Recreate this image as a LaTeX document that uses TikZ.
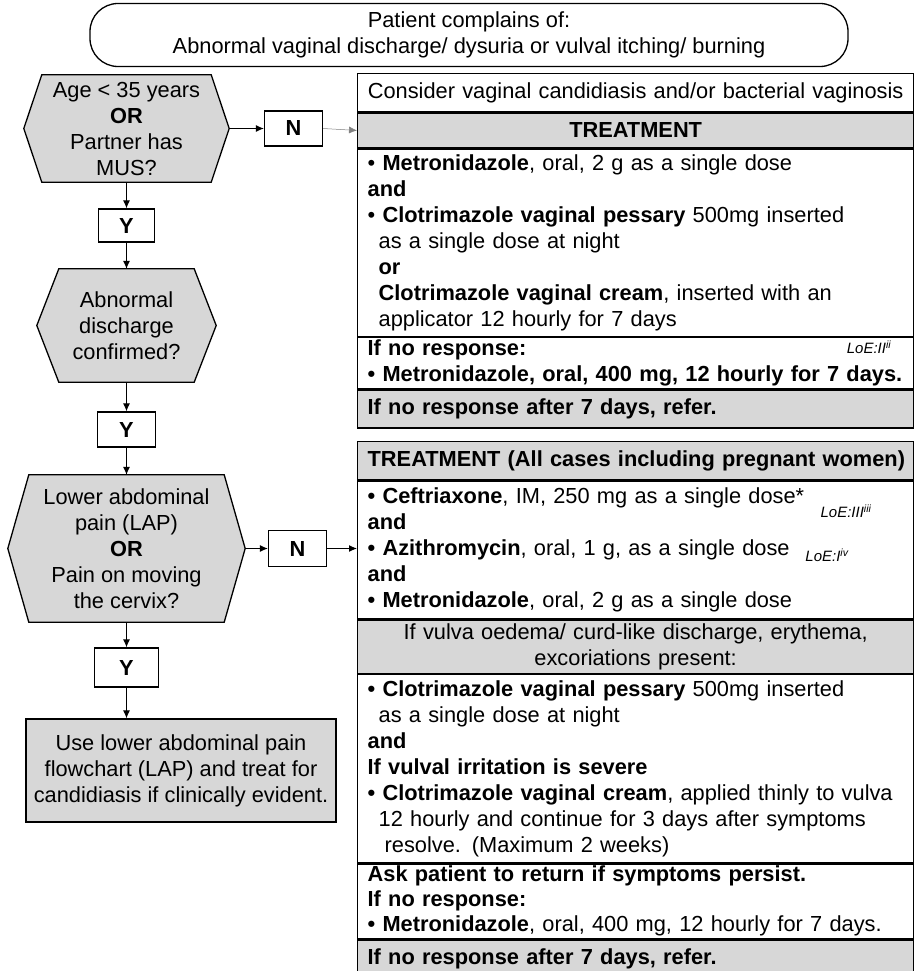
\documentclass[tikz,border=0pt]{standalone}
\usepackage{fontspec}
\setmainfont{Liberation Sans}
\usetikzlibrary{positioning,backgrounds,arrows.meta}
\definecolor{boxgrey}{RGB}{215,215,215}

\begin{document}
\begin{tikzpicture}[x=1pt,y=-1pt,
    every node/.style={font=\fontsize{21.8}{26}\selectfont,inner sep=0pt},
    bordered/.style={draw,line width=1.3pt},
    link/.style={line width=1pt,-{Latex[length=8pt,width=7pt]}},
    hexnode/.style={align=center},
    ynbox/.style={bordered,fill=white,font=\fontsize{21.8}{26}\selectfont\bfseries,
        minimum width=58pt,minimum height=35pt},
    tabrow/.style={bordered,text width=536pt,inner xsep=10pt,align=left,anchor=north west},
    greyrow/.style={tabrow,fill=boxgrey},
    loe/.style={font=\fontsize{15}{16}\selectfont\itshape}]
    \useasboundingbox (0,0) rectangle (914,971);

    % start
    \node[bordered,rounded corners=28pt,minimum width=758pt,minimum height=63pt,align=center]
        (start) at (469,35) {Patient complains of:\\Abnormal vaginal discharge/ dysuria or vulval itching/ burning};

    % decisions on the left
    \node[hexnode,minimum width=205pt,minimum height=107pt] (age) at (126.5,128.5)
        {Age < 35 years\\\textbf{OR}\\Partner has\\MUS?};
    \node[hexnode,minimum width=179pt,minimum height=113pt] (disch) at (126.5,325.5)
        {Abnormal\\discharge\\confirmed?};
    \node[hexnode,minimum width=237pt,minimum height=147pt] (lap) at (126.5,548.5)
        {Lower abdominal\\pain (LAP)\\\textbf{OR}\\Pain on moving\\the cervix?};
    \begin{scope}[on background layer]
        \foreach \n/\d in {age/18,disch/22,lap/21}
            \filldraw[bordered,fill=boxgrey] (\n.west) -- ([xshift=\d pt]\n.north west)
                -- ([xshift=-\d pt]\n.north east) -- (\n.east)
                -- ([xshift=-\d pt]\n.south east) -- ([xshift=\d pt]\n.south west) -- cycle;
    \end{scope}

    \node[ynbox] (n1) at (293.5,128.5) {N};
    \node[ynbox,minimum width=56pt,minimum height=33pt] (y1) at (126.5,225.5) {Y};
    \node[ynbox] (y2) at (126.5,429.5) {Y};
    \node[ynbox,minimum height=36pt] (n2) at (297.5,548.5) {N};
    \node[ynbox,minimum width=64pt,minimum height=39pt] (y3) at (126.5,667.5) {Y};

    \node[bordered,fill=boxgrey,minimum width=310pt,minimum height=103pt,align=center]
        (lapbox) at (181,770.5) {Use lower abdominal pain\\flowchart (LAP) and treat for\\candidiasis if clinically evident.};

    % first treatment table
    \node[tabrow,align=center,minimum height=38pt] (t1a) at (357,73)
        {\mbox{Consider vaginal candidiasis and/or bacterial vaginosis}};
    \node[greyrow,align=center,minimum height=35pt,below=0pt of t1a] (t1b) {\textbf{TREATMENT}};
    \node[tabrow,minimum height=187pt,below=0pt of t1b] (t1c)
        {• \textbf{Metronidazole}, oral, 2 g as a single dose\\
         \textbf{and}\\
         • \textbf{Clotrimazole vaginal pessary} 500mg inserted\\
         \hspace*{11pt}as a single dose at night\\
         \hspace*{11pt}\textbf{or}\\
         \hspace*{11pt}\textbf{Clotrimazole vaginal cream}, inserted with an\\
         \hspace*{11pt}applicator 12 hourly for 7 days};
    \node[tabrow,minimum height=51pt,below=0pt of t1c] (t1d)
        {\textbf{If no response:}\\
         \mbox{\textbf{• Metronidazole, oral, 400 mg, 12 hourly for 7 days.}}};
    \node[greyrow,minimum height=38pt,below=0pt of t1d] (t1e) {\textbf{If no response after 7 days, refer.}};
    \node[loe] (loeii) at (869,347) {LoE:II\textsuperscript{ii}};

    % second treatment table
    \node[greyrow,minimum height=38pt] (t2a) at (357,441)
        {\mbox{\textbf{TREATMENT (All cases including pregnant women)}}};
    \node[tabrow,minimum height=138pt,below=0pt of t2a] (t2b)
        {\textbf{•} \textbf{Ceftriaxone}, IM, 250 mg as a single dose*\\
         \textbf{and}\\
         \textbf{•} \textbf{Azithromycin}, oral, 1 g, as a single dose\\
         \textbf{and}\\
         \textbf{•} \textbf{Metronidazole}, oral, 2 g as a single dose};
    \node[greyrow,align=center,minimum height=53pt,below=0pt of t2b] (t2c)
        {If vulva oedema/ curd-like discharge, erythema,\\excoriations present:};
    \node[tabrow,minimum height=188pt,below=0pt of t2c] (t2d)
        {\textbf{•} \textbf{Clotrimazole vaginal pessary} 500mg inserted\\
         \hspace*{11pt}as a single dose at night\\
         \textbf{and}\\
         \textbf{If vulval irritation is severe}\\
         \mbox{\textbf{•} \textbf{Clotrimazole vaginal cream}, applied thinly to vulva}\\
         \hspace*{11pt}12 hourly and continue for 3 days after symptoms\\
         \hspace*{17pt}resolve. (Maximum 2 weeks)};
    \node[tabrow,minimum height=75pt,font=\fontsize{21.8}{25}\selectfont,below=0pt of t2d] (t2e)
        {\textbf{Ask patient to return if symptoms persist.}\\
         \textbf{If no response:}\\
         \mbox{\textbf{•} \textbf{Metronidazole}, oral, 400 mg, 12 hourly for 7 days.}};
    \node[greyrow,minimum height=60pt,text depth=27pt,below=0pt of t2e] (t2f)
        {\textbf{If no response after 7 days, refer.}};
    \node[loe] (loeiii) at (846,511) {LoE:III\textsuperscript{iii}};
    \node[loe] (loeiv) at (827,555) {LoE:I\textsuperscript{iv}};

    % connectors
    \draw[link] (age.east) -- (n1.west);
    \draw[link,line width=0.5pt,gray] (n1.east) -- (t1b.west);
    \draw[link] (age.south) -- (y1.north);
    \draw[link] (y1.south) -- (disch.north);
    \draw[link] (disch.south) -- (y2.north);
    \draw[link] (y2.south) -- (lap.north);
    \draw[link] (lap.east) -- (n2.west);
    \draw[link] (n2.east) -- (n2.east -| t2b.west);
    \draw[link] (lap.south) -- (y3.north);
    \draw[link] (y3.south) -- (y3.south |- lapbox.north);
\end{tikzpicture}
\end{document}
